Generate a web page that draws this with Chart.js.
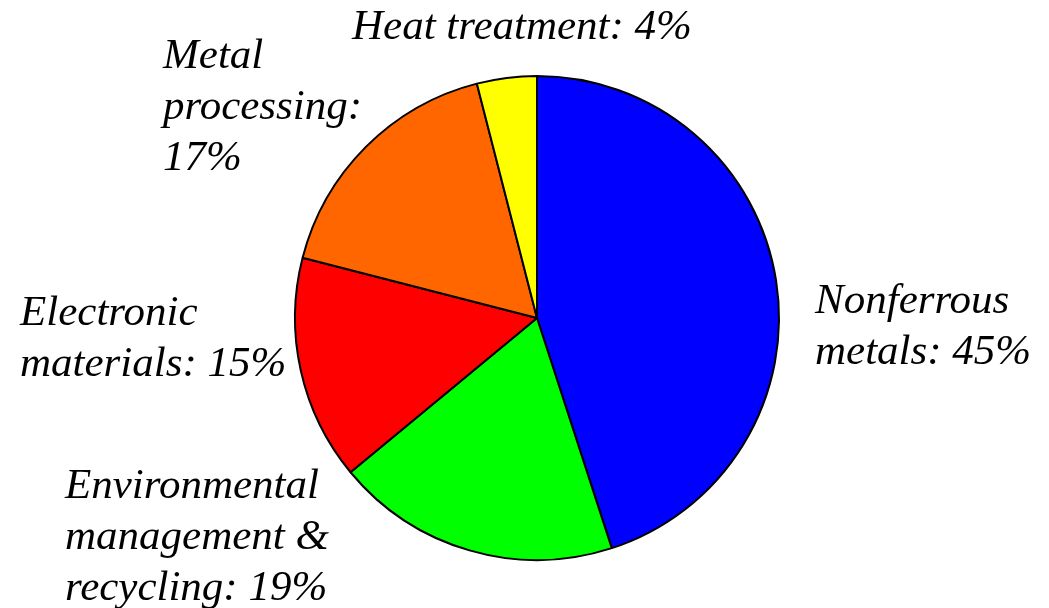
<!DOCTYPE html>
<html>
<head>
<meta charset="utf-8">
<script src="https://cdn.jsdelivr.net/npm/chart.js@4"></script>
<style>
  html, body { margin: 0; padding: 0; background: #fff; overflow: hidden; }
  #pieChart { display: block; }
</style>
</head>
<body>
<canvas id="pieChart" width="1049" height="608"></canvas>
<script>
// --- Data ---
const categories = ['Nonferrous metals', 'Environmental management & recycling', 'Electronic materials', 'Metal processing', 'Heat treatment'];
const shares = [45, 19, 15, 17, 4];
const sliceColors = ['#0000ff', '#00ff00', '#ff0000', '#ff6600', '#ffff00'];
// label text, split into lines as in the picture
const labelLines = [
    ['Nonferrous', 'metals: 45%'],
    ['Environmental', 'management &', 'recycling: 19%'],
    ['Electronic', 'materials: 15%'],
    ['Metal', 'processing:', '17%'],
    ['Heat treatment: 4%']
];
// where each label's first baseline starts (left edge, baseline)
const labelAnchors = [[815, 313], [65, 498], [20, 325], [163, 68], [352, 39]];

// draws the italic labels next to the slices
const sliceLabels = {
    id: 'sliceLabels',
    afterDraw(chart) {
        const ctx = chart.ctx;
        ctx.save();
        ctx.font = 'italic 43px "Liberation Serif", "Times New Roman", serif';
        ctx.fillStyle = '#000';
        ctx.textAlign = 'left';
        ctx.textBaseline = 'alphabetic';
        labelLines.forEach((lines, i) => {
            const [x, y] = labelAnchors[i];
            lines.forEach((line, j) => ctx.fillText(line, x, y + j * 51));
        });
        ctx.restore();
    }
};

new Chart(document.getElementById('pieChart'), {
    type: 'pie',
    data: {
        labels: categories,
        datasets: [{
            data: shares,
            backgroundColor: sliceColors,
            borderColor: '#000',
            borderWidth: 2
        }]
    },
    options: {
        responsive: false,
        animation: false,
        layout: { padding: { left: 294, right: 269, top: 75, bottom: 47 } },
        plugins: {
            legend: { display: false },
            tooltip: { enabled: false }
        }
    },
    plugins: [sliceLabels]
});
</script>
</body>
</html>
